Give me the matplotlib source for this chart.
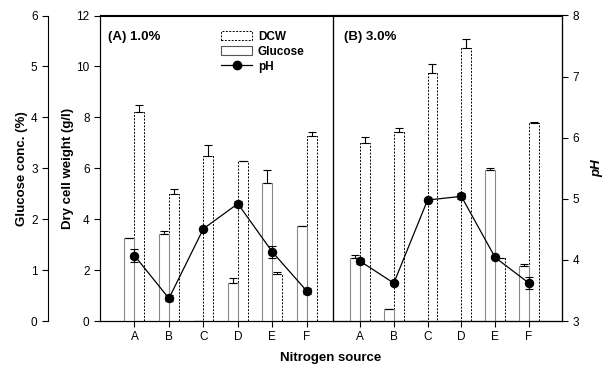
import matplotlib
matplotlib.use("Agg")
import matplotlib.pyplot as plt
from matplotlib.patches import Patch
from matplotlib.lines import Line2D

plt.rcParams['font.family'] = ['Liberation Sans', 'DejaVu Sans']

sources = ['A', 'B', 'C', 'D', 'E', 'F']

# (A) 1.0% glucose
dcw_a = [8.2, 5.0, 6.5, 6.3, 1.84, 7.27]
dcw_a_err = [0.3, 0.2, 0.4, 0.0, 0.1, 0.15]
glc_a = [1.63, 1.71, 0.0, 0.74, 2.72, 1.87]
glc_a_err = [0.0, 0.05, 0.0, 0.1, 0.24, 0.0]
ph_a = [4.07, 3.37, 4.51, 4.92, 4.13, 3.49]
ph_a_err = [0.11, 0.05, 0.0, 0.05, 0.1, 0.05]

# (B) 3.0% glucose
dcw_b = [6.99, 7.44, 9.74, 10.73, 2.47, 7.78]
dcw_b_err = [0.22, 0.16, 0.36, 0.35, 0.0, 0.03]
glc_b = [1.23, 0.24, 0.0, 0.0, 2.97, 1.09]
glc_b_err = [0.07, 0.0, 0.0, 0.0, 0.03, 0.02]
ph_b = [3.98, 3.62, 4.98, 5.04, 4.04, 3.62]
ph_b_err = [0.05, 0.03, 0.0, 0.05, 0.0, 0.1]

x = list(range(1, len(sources) + 1))
width = 0.29
tick_fs = 8.5
label_fs = 9.5


def draw_panel(ax, dcw, dcw_err, glc, glc_err, ph, ph_err):
    """Bars for DCW and glucose plus the pH line; returns the twin axes."""
    gax = ax.twinx()
    pax = ax.twinx()

    # glucose bars sit left of the tick, DCW bars right of it
    gax.bar([v - width / 2 for v in x], glc, width,
            facecolor='white', edgecolor='#888888', linewidth=0.8,
            yerr=[[0] * len(glc), glc_err],
            error_kw=dict(ecolor='black', elinewidth=0.8, capsize=3, capthick=0.8))
    ax.bar([v + width / 2 for v in x], dcw, width,
           facecolor='white', edgecolor='black', linewidth=0.7, linestyle=(0, (2, 1.5)),
           yerr=[[0] * len(dcw), dcw_err],
           error_kw=dict(ecolor='black', elinewidth=0.8, capsize=3, capthick=0.8))
    pax.errorbar(x, ph, yerr=ph_err, color='black', linewidth=0.9,
                 marker='o', markersize=5.8, capsize=3, elinewidth=0.8, capthick=0.8)

    ax.set_ylim(0, 12)
    gax.set_ylim(0, 6)
    pax.set_ylim(3, 8)
    ax.set_xticks(x)
    ax.set_xticklabels(sources, fontsize=tick_fs)
    ax.tick_params(axis='x', direction='out', length=4, width=0.8)
    for a in (ax, gax, pax):
        for sp in a.spines.values():
            sp.set_linewidth(0.8)
    return gax, pax


fig = plt.figure(figsize=(6.11, 3.71), dpi=100)
ax_a = fig.add_axes([100 / 611, 1 - 321 / 371, 233 / 611, 305.5 / 371])
ax_b = fig.add_axes([333 / 611, 1 - 321 / 371, 229 / 611, 305.5 / 371])

g_a, p_a = draw_panel(ax_a, dcw_a, dcw_a_err, glc_a, glc_a_err, ph_a, ph_a_err)
g_b, p_b = draw_panel(ax_b, dcw_b, dcw_b_err, glc_b, glc_b_err, ph_b, ph_b_err)

ax_a.set_xlim(0, 6.76)
ax_b.set_xlim(0.2, 6.98)

# left panel: DCW axis on the main spine, glucose axis pushed further out
ax_a.set_yticks(range(0, 13, 2))
ax_a.tick_params(axis='y', labelsize=tick_fs, direction='out', length=4, width=0.8)
ax_a.set_ylabel('Dry cell weight (g/l)', fontsize=label_fs, fontweight='bold', labelpad=2)

g_a.yaxis.set_ticks_position('left')
g_a.yaxis.set_label_position('left')
g_a.spines['left'].set_position(('outward', 52 * 72 / 100))
g_a.spines['left'].set_visible(True)
for side in ('right', 'top', 'bottom'):
    g_a.spines[side].set_visible(False)
g_a.set_yticks(range(0, 7))
g_a.tick_params(axis='y', labelsize=tick_fs, direction='out', length=4, width=0.8)
g_a.set_ylabel('Glucose conc. (%)', fontsize=label_fs, fontweight='bold', labelpad=2)

p_a.set_yticks([])
p_a.spines['right'].set_visible(False)
ax_a.spines['right'].set_visible(False)
g_a.spines['right'].set_visible(False)

# right panel: only the pH axis carries ticks
ax_b.set_yticks([])
g_b.set_yticks([])
p_b.set_yticks(range(3, 9))
p_b.tick_params(axis='y', labelsize=tick_fs, direction='out', length=4, width=0.8)
p_b.set_ylabel('pH', fontsize=label_fs, fontweight='bold', style='italic',
               rotation=90, labelpad=9)

ax_a.text(0.035, 0.92, '(A) 1.0%', transform=ax_a.transAxes,
          fontsize=9.5, fontweight='bold')
ax_b.text(0.05, 0.92, '(B) 3.0%', transform=ax_b.transAxes,
          fontsize=9.5, fontweight='bold')

handles = [
    Patch(facecolor='white', edgecolor='black', linewidth=0.7, linestyle=(0, (2, 1.5))),
    Patch(facecolor='white', edgecolor='#555555', linewidth=0.8),
    Line2D([], [], color='black', marker='o', markersize=6, linewidth=0.9),
]
p_a.legend(handles, ['DCW', 'Glucose', 'pH'], loc='upper left',
           bbox_to_anchor=(0.52, 0.95), frameon=False,
           handlelength=2.6, handleheight=0.8, labelspacing=0.25,
           handletextpad=0.5, borderaxespad=0, borderpad=0,
           prop={'weight': 'bold', 'size': 8.5})

fig.text(331 / 611, 1 - 358 / 371, 'Nitrogen source', ha='center', va='center',
         fontsize=label_fs, fontweight='bold')

fig.savefig('out.png', dpi=100)
